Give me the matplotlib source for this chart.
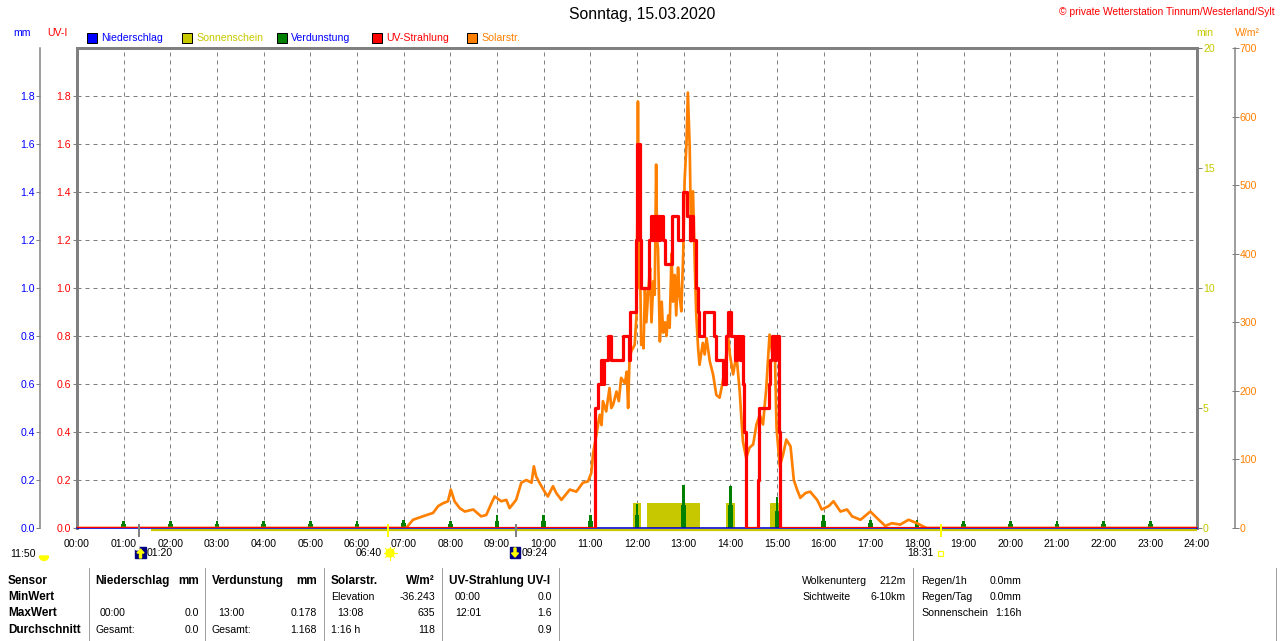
import matplotlib
matplotlib.use("Agg")
import matplotlib.pyplot as plt
import matplotlib.transforms as mtransforms
from matplotlib.patches import Rectangle, Circle, Wedge, Polygon
import numpy as np

plt.rcParams['font.family'] = ['Liberation Sans', 'DejaVu Sans']

# ---------------- data ----------------
hour_labels = [f"{h:02d}:00" for h in range(25)]

# UV index, step series (hour, value)
uv_time = [0.00, 11.11, 11.17, 11.22, 11.27, 11.30, 11.38, 11.45, 11.69, 11.83,
           11.86, 11.97, 11.99, 12.01, 12.07, 12.09, 12.12, 12.26, 12.29, 12.33,
           12.36, 12.40, 12.43, 12.47, 12.50, 12.55, 12.60, 12.64, 12.76, 12.87,
           12.92, 12.98, 13.08, 13.13, 13.15, 13.20, 13.27, 13.30, 13.33, 13.43,
           13.64, 13.70, 13.85, 13.90, 13.94, 14.01, 14.10, 14.14, 14.20, 14.24,
           14.28, 14.30, 14.33, 14.60, 14.62, 14.82, 14.86, 14.89, 14.95, 14.97,
           15.04, 15.07, 24.00]
uv_value = [0.0, 0.5, 0.6, 0.7, 0.6, 0.7, 0.8, 0.7, 0.8, 0.7,
            0.9, 1.2, 1.4, 1.6, 1.2, 1.0, 1.0, 1.2, 1.3, 1.2,
            1.3, 1.2, 1.3, 1.2, 1.3, 1.2, 1.1, 1.1, 1.3, 1.2,
            1.2, 1.4, 1.3, 1.2, 1.3, 1.2, 1.0, 0.9, 0.8, 0.9,
            0.8, 0.7, 0.6, 0.8, 0.9, 0.8, 0.7, 0.8, 0.7, 0.8,
            0.6, 0.4, 0.0, 0.2, 0.5, 0.6, 0.7, 0.8, 0.7, 0.8,
            0.4, 0.0, 0.0]

# solar radiation W/m2 (hour, value)
solar_time = [0.00, 7.05, 7.09, 7.20, 7.41, 7.63, 7.74, 7.84, 7.95, 8.01,
              8.09, 8.20, 8.31, 8.49, 8.66, 8.77, 8.88, 8.95, 9.09, 9.20,
              9.27, 9.41, 9.52, 9.63, 9.74, 9.79, 9.84, 9.91, 10.02, 10.09,
              10.20, 10.27, 10.38, 10.56, 10.70, 10.84, 10.95, 11.02, 11.06, 11.13,
              11.20, 11.24, 11.27, 11.34, 11.41, 11.45, 11.49, 11.56, 11.61, 11.66,
              11.74, 11.78, 11.81, 11.84, 11.88, 11.95, 11.99, 12.01, 12.02, 12.04,
              12.06, 12.09, 12.12, 12.14, 12.17, 12.20, 12.24, 12.28, 12.31, 12.35,
              12.38, 12.41, 12.43, 12.45, 12.49, 12.53, 12.56, 12.60, 12.63, 12.67,
              12.70, 12.74, 12.77, 12.81, 12.84, 12.88, 12.91, 12.95, 12.99, 13.02,
              13.06, 13.09, 13.13, 13.16, 13.20, 13.24, 13.27, 13.31, 13.34, 13.41,
              13.45, 13.49, 13.56, 13.63, 13.70, 13.77, 13.84, 13.91, 13.95, 13.99,
              14.06, 14.13, 14.20, 14.24, 14.27, 14.34, 14.41, 14.49, 14.56, 14.63,
              14.70, 14.77, 14.84, 14.91, 14.95, 14.99, 15.06, 15.13, 15.20, 15.29,
              15.36, 15.43, 15.50, 15.61, 15.71, 15.86, 15.96, 16.11, 16.21, 16.36,
              16.50, 16.61, 16.79, 17.00, 17.18, 17.32, 17.46, 17.64, 17.82, 18.00,
              18.14, 18.21, 18.25, 24.00]
solar_value = [0, 0, 3, 12, 17, 22, 32, 36, 39, 56,
               39, 29, 24, 27, 17, 19, 36, 46, 39, 41,
               29, 41, 66, 70, 66, 90, 75, 66, 53, 46,
               61, 51, 41, 56, 53, 66, 68, 80, 109, 136,
               165, 150, 185, 170, 204, 175, 180, 199, 185, 219,
               211, 228, 175, 248, 258, 267, 311, 470, 622, 350,
               408, 267, 275, 262, 350, 300, 345, 379, 300, 360,
               340, 530, 420, 408, 272, 330, 285, 300, 280, 310,
               292, 400, 330, 369, 310, 380, 340, 316, 399, 506,
               560, 635, 554, 418, 491, 379, 311, 262, 238, 270,
               253, 277, 243, 224, 194, 190, 214, 250, 282, 253,
               224, 253, 200, 156, 126, 102, 117, 122, 151, 165,
               151, 204, 282, 250, 267, 146, 90, 107, 129, 119,
               70, 56, 44, 51, 53, 41, 27, 32, 39, 24,
               27, 17, 12, 24, 12, 3, 7, 5, 12, 7,
               2, 0, 0, 0]

# sunshine minutes
sun_start = [11.91, 12.21, 13.91, 14.84]
sun_end = [12.09, 13.34, 14.09, 15.06]
sun_minutes = [1.05, 1.05, 1.05, 1.05]
sun_line_start = 1.58

# evaporation mm per hour
evap_hour = list(range(1, 24))
evap_mm = [0.03, 0.03, 0.03, 0.03, 0.03, 0.03, 0.035, 0.03, 0.055, 0.055,
           0.055, 0.10, 0.178, 0.175, 0.13, 0.055, 0.035, 0.035, 0.03, 0.03,
           0.03, 0.03, 0.03]

# precipitation
rain_time = [0, 24]
rain_mm = [0.0, 0.0]

# astro markers on the time axis
marker_hours = [1 + 20 / 60, 6 + 40 / 60, 9 + 24 / 60, 18 + 31 / 60]
marker_colors = ['#808080', '#FFFF00', '#808080', '#FFFF00']

# ---------------- colours / helpers ----------------
W, H = 1280, 641
PX = 72 / 100
GRAY = '#808080'
BLUE = '#0000FF'
OLIVE = '#C8C800'
GREEN = '#008000'
RED = '#FF0000'
ORANGE = '#FF8000'
FS = 7.6

fig = plt.figure(figsize=(12.8, 6.41), dpi=100)


def frac(x0, y0, x1, y1):
    return [x0 / W, 1 - y1 / H, (x1 - x0) / W, (y1 - y0) / H]


# base axes: grid and UV-I labels
ax = fig.add_axes(frac(77, 48, 1197, 528))
ax.set_xlim(0, 24)
ax.set_ylim(0, 2)
ax.set_axisbelow(True)
ax.set_xticks(range(25), hour_labels)
ax.set_yticks(np.arange(0, 1.81, 0.2), [f"{v:.1f}" for v in np.arange(0, 1.81, 0.2)])
ax.grid(True, color=GRAY, lw=1 * PX, linestyle=(0, (4, 4)))
ax.tick_params(axis='x', length=0, pad=11 * PX, labelsize=FS)
ax.tick_params(axis='y', length=4 * PX, color=GRAY, pad=2 * PX, labelsize=FS, labelcolor=RED)
for s in ['left', 'top', 'right']:
    ax.spines[s].set_color(GRAY)
    ax.spines[s].set_linewidth(3 * PX)
ax.spines['bottom'].set_visible(False)

# sunshine axis (min), right
ax_sun = ax.twinx()
ax_sun.set_ylim(0, 20)
ax_sun.set_yticks([0, 5, 10, 15, 20])
ax_sun.tick_params(axis='y', length=5 * PX, width=1 * PX, color=GRAY, pad=1 * PX,
                   labelsize=FS, labelcolor=OLIVE)
for s in ax_sun.spines.values():
    s.set_visible(False)
ax_sun.bar(sun_start, sun_minutes, width=np.array(sun_end) - np.array(sun_start),
           align='edge', color=OLIVE, lw=0)
off = mtransforms.offset_copy(ax_sun.transData, fig=fig, y=-1.5, units='dots')
ax_sun.plot([sun_line_start, 24], [0, 0], color=OLIVE, lw=2.2 * PX,
            transform=off, clip_on=False, solid_capstyle='butt')

# precipitation / evaporation axis (mm), outer left
ax_mm = ax.twinx()
ax_mm.set_ylim(0, 2)
ax_mm.yaxis.tick_left()
ax_mm.set_yticks(np.arange(0, 1.81, 0.2), [f"{v:.1f}" for v in np.arange(0, 1.81, 0.2)])
ax_mm.tick_params(axis='y', length=4 * PX, width=1 * PX, color=GRAY, pad=1 * PX,
                  labelsize=FS, labelcolor=BLUE)
for s in ['right', 'top', 'bottom']:
    ax_mm.spines[s].set_visible(False)
ax_mm.spines['left'].set_position(('outward', 37 * PX))
ax_mm.spines['left'].set_color(GRAY)
ax_mm.spines['left'].set_linewidth(1.5 * PX)
evap = np.array(evap_mm)
ax_mm.bar(evap_hour, evap * 0.55, width=0.095, color=GREEN, lw=0)
ax_mm.bar(evap_hour, evap, width=0.055, color=GREEN, lw=0)
ax_mm.plot(rain_time, rain_mm, color='#0000CC', lw=1.6 * PX, clip_on=False)

# solar radiation axis, far right
ax_sol = ax.twinx()
ax_sol.set_ylim(0, 700)
ax_sol.set_yticks(range(0, 701, 100))
ax_sol.tick_params(axis='y', direction='inout', length=7 * PX, width=1 * PX,
                   color=GRAY, pad=1 * PX, labelsize=FS, labelcolor=ORANGE)
for s in ['left', 'top', 'bottom']:
    ax_sol.spines[s].set_visible(False)
ax_sol.spines['right'].set_position(('outward', 38 * PX))
ax_sol.spines['right'].set_color(GRAY)
ax_sol.spines['right'].set_linewidth(1.5 * PX)
ax_sol.plot(solar_time, solar_value, color=ORANGE, lw=2.7 * PX)

# UV on top
ax_uv = ax.twinx()
ax_uv.set_ylim(0, 2)
ax_uv.set_axis_off()
ax_uv.step(uv_time, uv_value, where='post', color=RED, lw=3.2 * PX)
xt = ax_uv.get_xaxis_transform()
for h, c in zip(marker_hours, marker_colors):
    ax_uv.plot([h, h], [-9 / 480, 4 / 480], color=c, lw=2 * PX, transform=xt,
               clip_on=False, solid_capstyle='butt')

# ---------------- overlay in pixel coordinates ----------------
ov = fig.add_axes([0, 0, 1, 1])
ov.set_xlim(0, W)
ov.set_ylim(H, 0)
ov.set_axis_off()


def t(x, y, s, c='black', ha='left', bold=False, size=None):
    if size is None:
        size = 8.5 if bold else FS
    ov.text(x, y, s, color=c, ha=ha, va='center', fontsize=size,
            fontweight='bold' if bold else 'normal')


t(642, 15, "Sonntag, 15.03.2020", ha='center', size=11.3)
t(1275, 12, "© private Wetterstation Tinnum/Westerland/Sylt", c=RED, ha='right', size=7.4)
t(22, 33, "mm", c=BLUE, ha='center')
t(57, 33, "UV-I", c=RED, ha='center')
t(1205, 33, "min", c=OLIVE, ha='center')
t(1247, 33, "W/m²", c=ORANGE, ha='center')

legend = [("Niederschlag", BLUE, BLUE, 87), ("Sonnenschein", OLIVE, OLIVE, 182),
          ("Verdunstung", GREEN, BLUE, 277), ("UV-Strahlung", RED, RED, 372),
          ("Solarstr.", ORANGE, ORANGE, 467)]
for name, fc, tc, x in legend:
    ov.add_patch(Rectangle((x, 33), 10, 10, facecolor=fc, edgecolor='black', lw=1 * PX))
    t(x + 14, 38, name, c=tc)

# astro labels below the time axis
t(10, 554, "11:50")
ov.add_patch(Wedge((44, 556), 4.5, 0, 180, color='#FFFF00'))
ov.add_patch(Rectangle((135, 547), 11, 11, color='#000080'))
ov.add_patch(Polygon([[140.5, 549], [137, 553], [139.5, 553], [139.5, 558], [141.5, 558],
                      [141.5, 553], [144, 553]], closed=True, color='#FFFF00'))
ov.add_patch(Circle((137, 548), 2, color='white'))
t(147, 553, "01:20")
t(356, 553, "06:40")
ov.add_patch(Circle((390, 553), 4, color='#FFFF00'))
for a in np.linspace(0, 2 * np.pi, 8, endpoint=False):
    ov.plot([390 + 4 * np.cos(a), 390 + 6.5 * np.cos(a)], [553 + 4 * np.sin(a), 553 + 6.5 * np.sin(a)],
            color='#FFFF00', lw=1 * PX)
ov.add_patch(Rectangle((510, 547), 10, 11, color='#000080'))
ov.add_patch(Polygon([[515, 557], [511.5, 553], [514, 553], [514, 548], [516, 548],
                      [516, 553], [518.5, 553]], closed=True, color='#FFFF00'))
t(522, 553, "09:24")
t(934, 553, "18:31", ha='right')
ov.add_patch(Rectangle((938, 551), 5, 5, facecolor='none', edgecolor='#FFFF00', lw=1.2 * PX))

# ---------------- bottom table ----------------
for x in [89, 205, 324, 442, 559, 913, 1276]:
    ov.plot([x, x], [568, 641], color='#A0A0A0', lw=1 * PX)

row_y = [581, 597, 613, 630]
for y, s in zip(row_y, ["Sensor", "MinWert", "MaxWert", "Durchschnitt"]):
    t(8, y, s, bold=True)

headers = [(95, "Niederschlag", 'left'), (199, "mm", 'right'),
           (212, "Verdunstung", 'left'), (317, "mm", 'right'),
           (331, "Solarstr.", 'left'), (435, "W/m²", 'right'),
           (449, "UV-Strahlung UV-I", 'left')]
for x, s, ha in headers:
    t(x, 581, s, ha=ha, bold=True)

cells = [(100, 613, "00:00", 'left'), (199, 613, "0.0", 'right'),
         (95, 630, "Gesamt:", 'left'), (199, 630, "0.0", 'right'),
         (218, 613, "13:00", 'left'), (317, 613, "0.178", 'right'),
         (212, 630, "Gesamt:", 'left'), (317, 630, "1.168", 'right'),
         (331, 597, "Elevation", 'left'), (435, 597, "-36.243", 'right'),
         (337, 613, "13:08", 'left'), (435, 613, "635", 'right'),
         (331, 630, "1:16 h", 'left'), (435, 630, "118", 'right'),
         (455, 597, "00:00", 'left'), (552, 597, "0.0", 'right'),
         (455, 613, "12:01", 'left'), (552, 613, "1.6", 'right'),
         (552, 630, "0.9", 'right'),
         (802, 581, "Wolkenunterg", 'left'), (906, 581, "212m", 'right'),
         (802, 597, "Sichtweite", 'left'), (906, 597, "6-10km", 'right'),
         (921, 581, "Regen/1h", 'left'), (1022, 581, "0.0mm", 'right'),
         (921, 597, "Regen/Tag", 'left'), (1022, 597, "0.0mm", 'right'),
         (921, 613, "Sonnenschein", 'left'), (1022, 613, "1:16h", 'right')]
for x, y, s, ha in cells:
    t(x, y, s, ha=ha)

fig.savefig("out.png", dpi=100)
